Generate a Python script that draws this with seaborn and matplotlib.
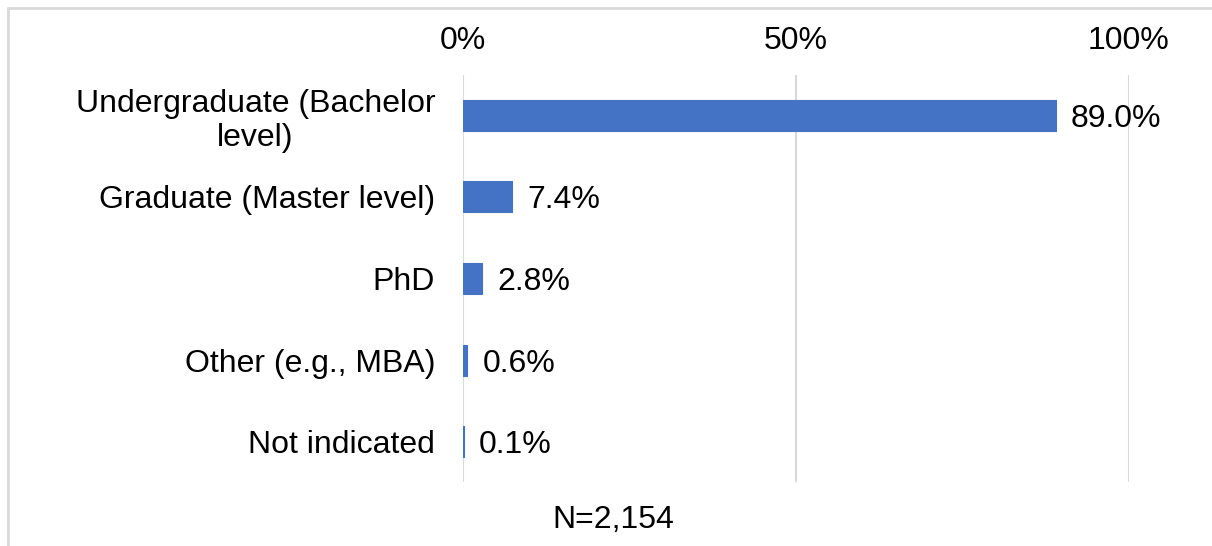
import matplotlib
matplotlib.use("Agg")
import matplotlib.pyplot as plt
import seaborn as sns
import pandas as pd
from matplotlib.lines import Line2D

categories = ["Undergraduate (Bachelor\nlevel)", "Graduate (Master level)", "PhD",
              "Other (e.g., MBA)", "Not indicated"]
values = [89.0, 7.4, 2.8, 0.6, 0.1]
tick_values = [0, 50, 100]
tick_labels = ["0%", "50%", "100%"]
note = "N=2,154"

sns.set_theme(style="white")
plt.rcParams["font.family"] = ["Liberation Sans", "DejaVu Sans"]

df = pd.DataFrame({"cat": categories, "val": values})

W, H = 1212, 546
fig = plt.figure(figsize=(W / 100, H / 100), dpi=100)
ax = fig.add_axes([463 / W, 1 - 482 / H, (1129 - 463) / W, (482 - 75) / H])

sns.barplot(data=df, x="val", y="cat", orient="h", color="#4472C4",
            saturation=1, width=0.38, edgecolor="#4472C4", linewidth=0.8, ax=ax)

ax.set_xlim(0, 100)
ax.set_ylim(4.49, -0.49)
ax.set_xticks(tick_values)
ax.set_xticklabels(tick_labels)
ax.xaxis.tick_top()
ax.tick_params(axis="x", length=0, pad=13.5, labelsize=23, colors="black")
ax.tick_params(axis="y", length=0, pad=20, labelsize=23, colors="black")
for lbl in ax.get_yticklabels():
    lbl.set_multialignment("center")
    lbl.set_linespacing(1.2)
ax.set_xlabel("")
ax.set_ylabel("")
ax.grid(axis="x", color="#D9D9D9", linewidth=1.5)
ax.set_axisbelow(True)
for s in ax.spines.values():
    s.set_visible(False)

texts = ax.bar_label(ax.containers[0], labels=[f"{v:.1f}%" for v in values],
                     padding=11, fontsize=23, color="black")
for t in texts:
    t.set_va("center_baseline")

fig.text(613 / W, 1 - 520 / H, note, ha="center", va="center", fontsize=23,
         color="black")

# outer chart frame (left and top edges visible)
fy = 1 - 8 / H
fx = 7.5 / W
fig.add_artist(Line2D([fx, fx], [0, fy], transform=fig.transFigure,
                      color="#D9D9D9", linewidth=2))
fig.add_artist(Line2D([fx, 1.0], [fy, fy], transform=fig.transFigure,
                      color="#D9D9D9", linewidth=2))

fig.savefig("out.png", dpi=100, facecolor="white")
